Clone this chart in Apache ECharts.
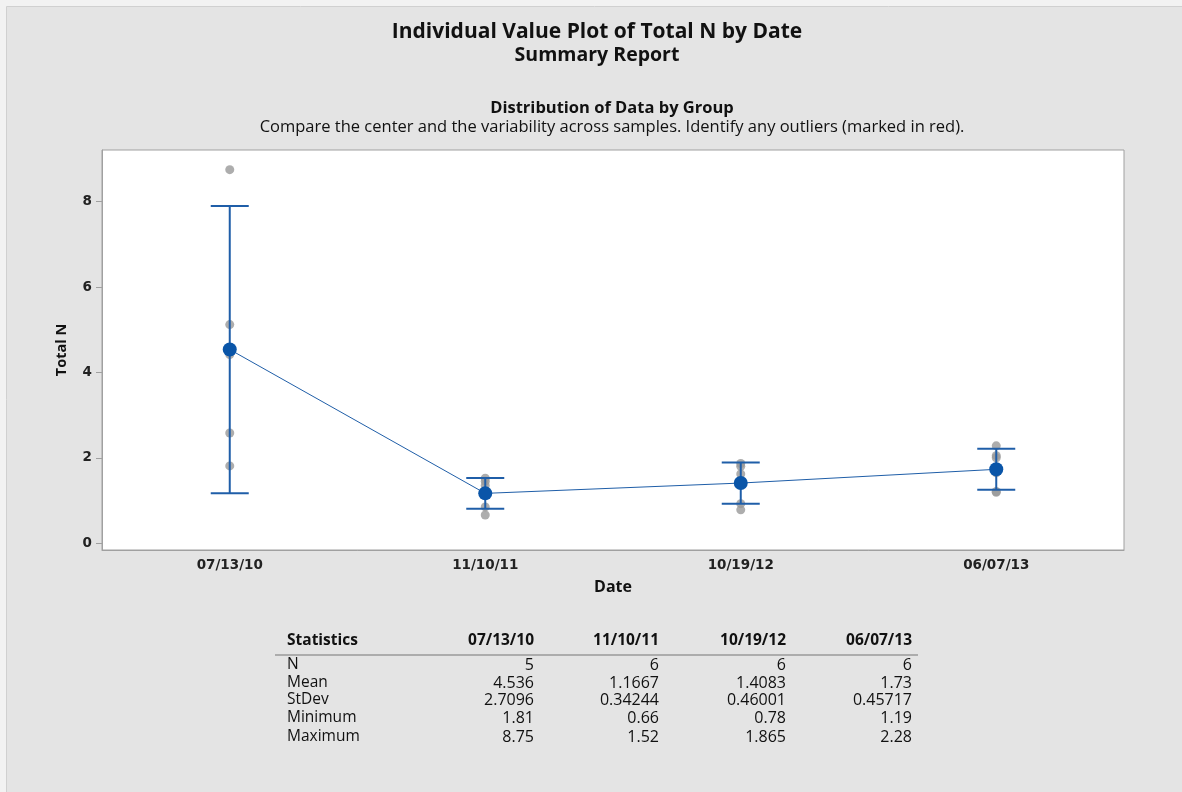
<!DOCTYPE html>
<html>
<head>
<meta charset="utf-8">
<script src="https://cdn.jsdelivr.net/npm/echarts@6/dist/echarts.min.js"></script>
<style>
html,body{margin:0;padding:0;background:#f2f2f2;}
#chart{width:1182px;height:792px;}
</style>
</head>
<body>
<div id="chart"></div>
<script>
// ---- data ----
var categories = ['07/13/10', '11/10/11', '10/19/12', '06/07/13'];
var values0 = [8.75, 5.12, 4.42, 2.58, 1.81];
var values1 = [1.52, 1.45, 1.35, 1.17, 0.85, 0.66];
var values2 = [1.865, 1.80, 1.62, 1.46, 0.925, 0.78];
var values3 = [2.28, 2.05, 2.00, 1.65, 1.21, 1.19];
var means = [4.536, 1.1667, 1.4083, 1.73];
var ciLow = [1.17, 0.807, 0.925, 1.25];
var ciHigh = [7.90, 1.526, 1.891, 2.21];
var yTicks = [0, 2, 4, 6, 8];
var statRows = ['N', 'Mean', 'StDev', 'Minimum', 'Maximum'];
var statN = ['5', '6', '6', '6'];
var statMean = ['4.536', '1.1667', '1.4083', '1.73'];
var statStDev = ['2.7096', '0.34244', '0.46001', '0.45717'];
var statMin = ['1.81', '0.66', '0.78', '1.19'];
var statMax = ['8.75', '1.52', '1.865', '2.28'];

var groups = [values0, values1, values2, values3];
var points = [];
groups.forEach(function (g, i) { g.forEach(function (v) { points.push([i, v]); }); });
var ciData = categories.map(function (c, i) { return [i, ciLow[i], ciHigh[i]]; });
var meanData = means.map(function (m, i) { return [i, m]; });

var FONT = 'Open Sans';
var BLUE = '#1f5ea8';
var chart = echarts.init(document.getElementById('chart'));

// table graphics
var tableCols = [534, 659, 786, 912];
var rowY = [665, 683, 700, 718, 737];
var statTable = [statN, statMean, statStDev, statMin, statMax];
var g = [];
g.push({type: 'rect', left: 6, top: 6, shape: {width: 1176, height: 786}, style: {fill: '#e4e4e4', stroke: '#d0d0d0', lineWidth: 1}, z: -10});
g.push({type: 'text', x: 597, y: 32, style: {text: 'Individual Value Plot of Total N by Date', font: 'bold 21px "' + FONT + '"', fill: '#111', align: 'center', verticalAlign: 'middle'}});
g.push({type: 'text', x: 597, y: 55, style: {text: 'Summary Report', font: 'bold 19.5px "' + FONT + '"', fill: '#111', align: 'center', verticalAlign: 'middle'}});
g.push({type: 'text', x: 612, y: 108, style: {text: 'Distribution of Data by Group', font: 'bold 16.5px "' + FONT + '"', fill: '#111', align: 'center', verticalAlign: 'middle'}});
g.push({type: 'text', x: 612, y: 127, style: {text: 'Compare the center and the variability across samples. Identify any outliers (marked in red).', font: '16.5px "' + FONT + '"', fill: '#111', align: 'center', verticalAlign: 'middle'}});
g.push({type: 'text', x: 287, y: 641, style: {text: 'Statistics', font: 'bold 15.5px "' + FONT + '"', fill: '#111', align: 'left', verticalAlign: 'middle'}});
categories.forEach(function (c, i) {
  g.push({type: 'text', x: tableCols[i], y: 641, style: {text: c, font: 'bold 15.5px "' + FONT + '"', fill: '#111', align: 'right', verticalAlign: 'middle'}});
});
g.push({type: 'line', shape: {x1: 275, y1: 655, x2: 918, y2: 655}, style: {stroke: '#9a9a9a', lineWidth: 1.5}});
statRows.forEach(function (r, ri) {
  g.push({type: 'text', x: 287, y: rowY[ri], style: {text: r, font: '15.5px "' + FONT + '"', fill: '#111', align: 'left', verticalAlign: 'middle'}});
  statTable[ri].forEach(function (v, ci) {
    g.push({type: 'text', x: tableCols[ci], y: rowY[ri], style: {text: v, font: '16px "' + FONT + '"', fill: '#111', align: 'right', verticalAlign: 'middle'}});
  });
});

var option = {
  backgroundColor: '#f2f2f2',
  animation: false,
  graphic: g,
  grid: {left: 102, top: 150, right: 58, bottom: 242, show: true, backgroundColor: '#ffffff', borderColor: '#a0a0a0', borderWidth: 1},
  xAxis: {
    type: 'category', data: categories, boundaryGap: true,
    name: 'Date', nameLocation: 'middle', nameGap: 29,
    nameTextStyle: {fontFamily: FONT, fontWeight: 'bold', fontSize: 16, color: '#111'},
    axisLine: {onZero: false, lineStyle: {color: '#a0a0a0'}},
    axisTick: {alignWithLabel: true, length: 5, lineStyle: {color: '#a0a0a0'}},
    axisLabel: {fontFamily: 'DejaVu Sans', fontWeight: 'bold', fontSize: 13.5, color: '#222', margin: 8},
    splitLine: {show: false}
  },
  yAxis: {
    type: 'value', min: -0.16, max: 9.21,
    name: 'Total N', nameLocation: 'middle', nameGap: 33,
    nameTextStyle: {fontFamily: FONT, fontWeight: 'bold', fontSize: 14.5, color: '#111'},
    axisLine: {show: true, lineStyle: {color: '#a0a0a0'}},
    axisTick: {show: true, length: 6, customValues: yTicks, lineStyle: {color: '#a0a0a0'}},
    axisLabel: {customValues: yTicks, fontFamily: 'DejaVu Sans', fontWeight: 'bold', fontSize: 13.5, color: '#222', margin: 10},
    splitLine: {show: false}
  },
  series: [
    {
      type: 'custom', name: 'CI', data: ciData, z: 3,
      renderItem: function (params, api) {
        var x = api.value(0);
        var lo = api.coord([x, api.value(1)]);
        var hi = api.coord([x, api.value(2)]);
        var hw = 19;
        var st = {stroke: BLUE, lineWidth: 2, fill: null};
        return {type: 'group', children: [
          {type: 'line', shape: {x1: lo[0], y1: lo[1], x2: hi[0], y2: hi[1]}, style: st},
          {type: 'line', shape: {x1: lo[0] - hw, y1: lo[1], x2: lo[0] + hw, y2: lo[1]}, style: st},
          {type: 'line', shape: {x1: hi[0] - hw, y1: hi[1], x2: hi[0] + hw, y2: hi[1]}, style: st}
        ]};
      }
    },
    {
      type: 'scatter', name: 'Data', data: points, symbolSize: 9, z: 2,
      itemStyle: {color: '#989898'}
    },
    {
      type: 'line', name: 'Mean', data: meanData, symbol: 'circle', symbolSize: 14, z: 4,
      lineStyle: {color: BLUE, width: 1}, itemStyle: {color: '#0a55a8'}
    }
  ]
};
chart.setOption(option);
</script>
</body>
</html>
